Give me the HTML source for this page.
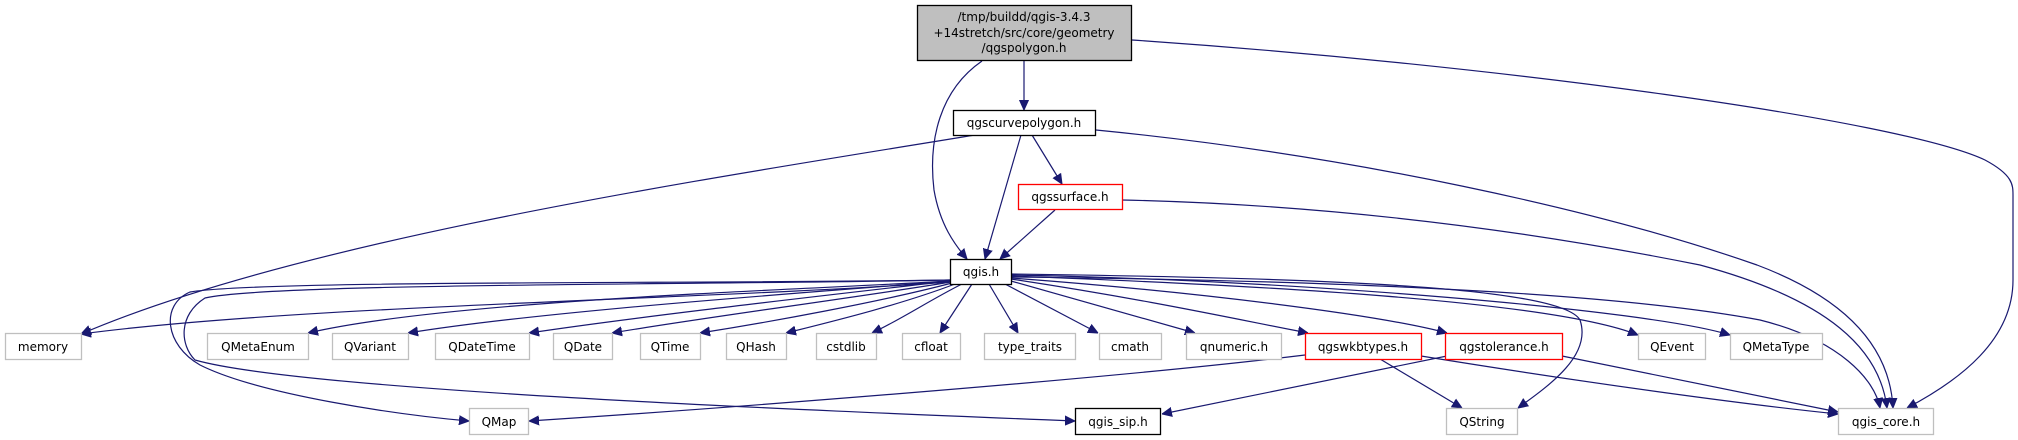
<!DOCTYPE html>
<html><head><meta charset="utf-8"><style>
html,body{margin:0;padding:0;background:#fff;}
svg{display:block}
text{font-family:"DejaVu Sans","Liberation Sans",sans-serif;font-size:12px;fill:#000;text-anchor:middle}
.e{fill:none;stroke:#191970;stroke-width:1.2}
.g{fill:#fff;stroke:#bfbfbf;stroke-width:1.3}
.b{fill:#fff;stroke:#000;stroke-width:1.3}
.r{fill:#fff;stroke:#ff0000;stroke-width:1.3}
</style></head><body>
<svg width="2018" height="440" viewBox="0 0 2018 440" xmlns="http://www.w3.org/2000/svg">
<defs><marker id="a" viewBox="0 0 10 10" refX="10" refY="5" markerWidth="10" markerHeight="10" markerUnits="userSpaceOnUse" orient="auto"><path d="M0,0.5 L10,5 L0,9.5 z" fill="#191970" stroke="#191970"/></marker></defs>
<g marker-end="url(#a)">
<path class="e" d="M1024,61 L1024,110"/>
<path class="e" d="M982,61 C940,90 928,140 934,190 C940,225 955,245 967,259"/>
<path class="e" d="M1132,40 C1500,65 1900,120 1985,160 C2013,175 2013,185 2013,195 L2013,280 C2013,340 1960,380 1907,408"/>
<path class="e" d="M975,135 C700,180 300,240 81,334"/>
<path class="e" d="M1021,135 L985,259"/>
<path class="e" d="M1032,135 L1062,184"/>
<path class="e" d="M1096,130 C1350,155 1600,210 1757,265 C1850,300 1890,350 1893,408"/>
<path class="e" d="M1055,210 L1000,259"/>
<path class="e" d="M1122,200 C1350,205 1550,235 1700,265 C1830,300 1880,350 1887,408"/>
<path class="e" d="M950,282 C700,300 300,305 81,334"/>
<path class="e" d="M950,281 C800,290 450,300 308,333"/>
<path class="e" d="M950,281 C820,292 550,310 408,333"/>
<path class="e" d="M950,281 C830,295 650,315 529,333"/>
<path class="e" d="M951,282 C860,297 700,318 612,333"/>
<path class="e" d="M952,283 C880,302 770,322 700,333"/>
<path class="e" d="M955,284 C900,305 830,322 786,333"/>
<path class="e" d="M962,284 C930,300 900,320 872,333"/>
<path class="e" d="M972,284 L940,333"/>
<path class="e" d="M989,284 L1018,333"/>
<path class="e" d="M1005,284 L1098,333"/>
<path class="e" d="M1011,281 L1195,333"/>
<path class="e" d="M1011,279 C1150,300 1240,320 1308,333"/>
<path class="e" d="M1011,278 C1200,292 1380,315 1447,333"/>
<path class="e" d="M1011,276 C1250,285 1550,300 1638,335"/>
<path class="e" d="M1011,275 C1300,280 1650,310 1730,335"/>
<path class="e" d="M1011,277 C1300,280 1600,290 1760,320 C1840,340 1875,380 1880,408"/>
<path class="e" d="M1011,274 C1300,278 1560,285 1580,320 C1592,355 1550,385 1518,408"/>
<path class="e" d="M950,280 C700,284 260,280 190,292 C160,305 165,345 200,365 C260,395 400,415 469,421"/>
<path class="e" d="M950,280 C700,285 270,283 205,298 C178,315 180,345 195,360 C300,390 800,410 1075,421"/>
<path class="e" d="M1305,355 C1100,380 700,410 529,421"/>
<path class="e" d="M1380,359 L1462,408"/>
<path class="e" d="M1421,356 C1600,385 1750,405 1838,414"/>
<path class="e" d="M1447,356 L1162,414"/>
<path class="e" d="M1562,356 L1838,412"/>
</g>
<rect x="917.5" y="5.5" width="214" height="55" fill="#bfbfbf" stroke="#000" stroke-width="1.3"/>
<text x="1024" y="21">/tmp/buildd/qgis-3.4.3</text>
<text x="1024" y="37">+14stretch/src/core/geometry</text>
<text x="1024" y="52">/qgspolygon.h</text>
<rect class="b" x="953.5" y="110.5" width="142" height="25"/><text x="1024" y="127">qgscurvepolygon.h</text>
<rect class="r" x="1018.5" y="184.5" width="104" height="25"/><text x="1070" y="201">qgssurface.h</text>
<rect class="b" x="950.5" y="259.5" width="61" height="25"/><text x="981" y="276">qgis.h</text>
<g>
<rect class="g" x="5.5" y="333.5" width="76" height="26"/><text x="43" y="351">memory</text>
<rect class="g" x="207.5" y="333.5" width="101" height="26"/><text x="258" y="351">QMetaEnum</text>
<rect class="g" x="332.5" y="333.5" width="76" height="26"/><text x="370" y="351">QVariant</text>
<rect class="g" x="435.5" y="333.5" width="94" height="26"/><text x="482" y="351">QDateTime</text>
<rect class="g" x="553.5" y="333.5" width="59" height="26"/><text x="583" y="351">QDate</text>
<rect class="g" x="640.5" y="333.5" width="60" height="26"/><text x="670" y="351">QTime</text>
<rect class="g" x="726.5" y="333.5" width="60" height="26"/><text x="756" y="351">QHash</text>
<rect class="g" x="816.5" y="333.5" width="60" height="26"/><text x="846" y="351">cstdlib</text>
<rect class="g" x="902.5" y="333.5" width="58" height="26"/><text x="931" y="351">cfloat</text>
<rect class="g" x="984.5" y="333.5" width="91" height="26"/><text x="1030" y="351">type_traits</text>
<rect class="g" x="1099.5" y="333.5" width="62" height="26"/><text x="1130" y="351">cmath</text>
<rect class="g" x="1186.5" y="333.5" width="95" height="26"/><text x="1234" y="351">qnumeric.h</text>
<rect class="r" x="1305.5" y="333.5" width="116" height="26"/><text x="1363" y="351">qgswkbtypes.h</text>
<rect class="r" x="1445.5" y="333.5" width="117" height="26"/><text x="1504" y="351">qgstolerance.h</text>
<rect class="g" x="1638.5" y="333.5" width="67" height="26"/><text x="1672" y="351">QEvent</text>
<rect class="g" x="1730.5" y="333.5" width="92" height="26"/><text x="1776" y="351">QMetaType</text>
<rect class="g" x="469.5" y="408.5" width="59" height="26"/><text x="499" y="426">QMap</text>
<rect class="b" x="1075.5" y="408.5" width="85" height="26"/><text x="1118" y="426">qgis_sip.h</text>
<rect class="g" x="1446.5" y="408.5" width="71" height="26"/><text x="1482" y="426">QString</text>
<rect class="g" x="1838.5" y="408.5" width="95" height="26"/><text x="1886" y="426">qgis_core.h</text>
</g>
</svg>
</body></html>
